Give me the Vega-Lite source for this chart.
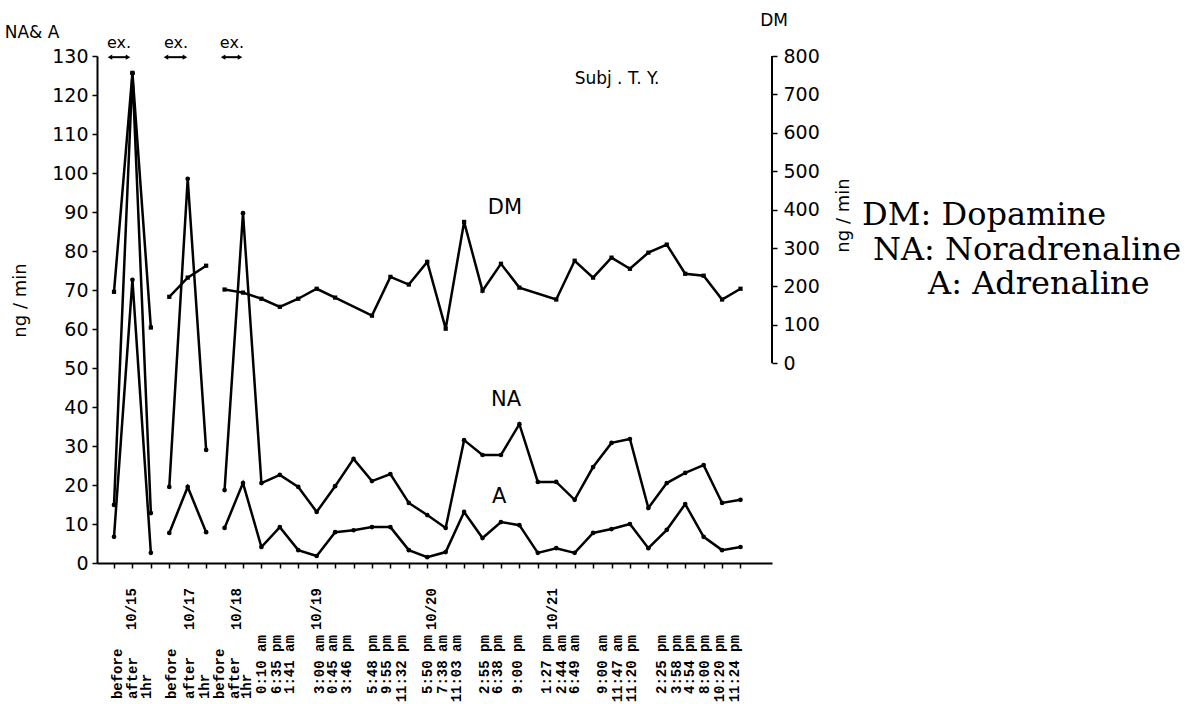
{
  "$schema": "https://vega.github.io/schema/vega-lite/v6.json",
  "width": 675,
  "height": 507,
  "autosize": {"type": "none"},
  "padding": {"left": 97, "top": 56, "right": 432, "bottom": 141},
  "background": "white",
  "config": {
    "view": {"stroke": null},
    "axis": {"domainColor": "black", "tickColor": "black", "labelColor": "black", "titleColor": "black", "grid": false, "labelFont": "DejaVu Sans", "titleFont": "DejaVu Sans"}
  },
  "datasets": {
    "na_a": [
      {"s": "NA", "g": 1, "i": 0, "v": 14.9}, {"s": "NA", "g": 1, "i": 1, "v": 125.6}, {"s": "NA", "g": 1, "i": 2, "v": 12.8},
      {"s": "NA", "g": 2, "i": 3, "v": 19.5}, {"s": "NA", "g": 2, "i": 4, "v": 98.5}, {"s": "NA", "g": 2, "i": 5, "v": 29.0},
      {"s": "NA", "g": 3, "i": 6, "v": 18.7}, {"s": "NA", "g": 3, "i": 7, "v": 89.7}, {"s": "NA", "g": 3, "i": 8, "v": 20.5},
      {"s": "NA", "g": 3, "i": 9, "v": 22.6}, {"s": "NA", "g": 3, "i": 10, "v": 19.5}, {"s": "NA", "g": 3, "i": 11, "v": 13.1},
      {"s": "NA", "g": 3, "i": 12, "v": 19.7}, {"s": "NA", "g": 3, "i": 13, "v": 26.7}, {"s": "NA", "g": 3, "i": 14, "v": 21.0},
      {"s": "NA", "g": 3, "i": 15, "v": 22.8}, {"s": "NA", "g": 3, "i": 16, "v": 15.4}, {"s": "NA", "g": 3, "i": 17, "v": 12.3},
      {"s": "NA", "g": 3, "i": 18, "v": 9.0}, {"s": "NA", "g": 3, "i": 19, "v": 31.5}, {"s": "NA", "g": 3, "i": 20, "v": 27.7},
      {"s": "NA", "g": 3, "i": 21, "v": 27.7}, {"s": "NA", "g": 3, "i": 22, "v": 35.6}, {"s": "NA", "g": 3, "i": 23, "v": 20.8},
      {"s": "NA", "g": 3, "i": 24, "v": 20.8}, {"s": "NA", "g": 3, "i": 25, "v": 16.2}, {"s": "NA", "g": 3, "i": 26, "v": 24.6},
      {"s": "NA", "g": 3, "i": 27, "v": 30.8}, {"s": "NA", "g": 3, "i": 28, "v": 31.8}, {"s": "NA", "g": 3, "i": 29, "v": 14.1},
      {"s": "NA", "g": 3, "i": 30, "v": 20.5}, {"s": "NA", "g": 3, "i": 31, "v": 23.1}, {"s": "NA", "g": 3, "i": 32, "v": 25.1},
      {"s": "NA", "g": 3, "i": 33, "v": 15.4}, {"s": "NA", "g": 3, "i": 34, "v": 16.2},
      {"s": "A", "g": 1, "i": 0, "v": 6.7}, {"s": "A", "g": 1, "i": 1, "v": 72.6}, {"s": "A", "g": 1, "i": 2, "v": 2.6},
      {"s": "A", "g": 2, "i": 3, "v": 7.7}, {"s": "A", "g": 2, "i": 4, "v": 19.5}, {"s": "A", "g": 2, "i": 5, "v": 7.9},
      {"s": "A", "g": 3, "i": 6, "v": 9.0}, {"s": "A", "g": 3, "i": 7, "v": 20.5}, {"s": "A", "g": 3, "i": 8, "v": 4.1},
      {"s": "A", "g": 3, "i": 9, "v": 9.2}, {"s": "A", "g": 3, "i": 10, "v": 3.3}, {"s": "A", "g": 3, "i": 11, "v": 1.8},
      {"s": "A", "g": 3, "i": 12, "v": 7.9}, {"s": "A", "g": 3, "i": 13, "v": 8.4}, {"s": "A", "g": 3, "i": 14, "v": 9.2},
      {"s": "A", "g": 3, "i": 15, "v": 9.2}, {"s": "A", "g": 3, "i": 16, "v": 3.3}, {"s": "A", "g": 3, "i": 17, "v": 1.5},
      {"s": "A", "g": 3, "i": 18, "v": 2.8}, {"s": "A", "g": 3, "i": 19, "v": 13.1}, {"s": "A", "g": 3, "i": 20, "v": 6.4},
      {"s": "A", "g": 3, "i": 21, "v": 10.5}, {"s": "A", "g": 3, "i": 22, "v": 9.7}, {"s": "A", "g": 3, "i": 23, "v": 2.6},
      {"s": "A", "g": 3, "i": 24, "v": 3.8}, {"s": "A", "g": 3, "i": 25, "v": 2.6}, {"s": "A", "g": 3, "i": 26, "v": 7.7},
      {"s": "A", "g": 3, "i": 27, "v": 8.7}, {"s": "A", "g": 3, "i": 28, "v": 10.0}, {"s": "A", "g": 3, "i": 29, "v": 3.8},
      {"s": "A", "g": 3, "i": 30, "v": 8.5}, {"s": "A", "g": 3, "i": 31, "v": 15.1}, {"s": "A", "g": 3, "i": 32, "v": 6.7},
      {"s": "A", "g": 3, "i": 33, "v": 3.3}, {"s": "A", "g": 3, "i": 34, "v": 4.1}
    ],
    "dm": [
      {"g": 1, "i": 0, "v": 186}, {"g": 1, "i": 1, "v": 756}, {"g": 1, "i": 2, "v": 93},
      {"g": 2, "i": 3, "v": 173}, {"g": 2, "i": 4, "v": 223}, {"g": 2, "i": 5, "v": 254},
      {"g": 3, "i": 6, "v": 192}, {"g": 3, "i": 7, "v": 184}, {"g": 3, "i": 8, "v": 168},
      {"g": 3, "i": 9, "v": 147}, {"g": 3, "i": 10, "v": 168}, {"g": 3, "i": 11, "v": 194},
      {"g": 3, "i": 12, "v": 171}, {"g": 3, "i": 14, "v": 124}, {"g": 3, "i": 15, "v": 225},
      {"g": 3, "i": 16, "v": 205}, {"g": 3, "i": 17, "v": 264}, {"g": 3, "i": 18, "v": 90},
      {"g": 3, "i": 19, "v": 368}, {"g": 3, "i": 20, "v": 189}, {"g": 3, "i": 21, "v": 259},
      {"g": 3, "i": 22, "v": 197}, {"g": 3, "i": 24, "v": 166}, {"g": 3, "i": 25, "v": 267},
      {"g": 3, "i": 26, "v": 223}, {"g": 3, "i": 27, "v": 275}, {"g": 3, "i": 28, "v": 246},
      {"g": 3, "i": 29, "v": 288}, {"g": 3, "i": 30, "v": 309}, {"g": 3, "i": 31, "v": 233},
      {"g": 3, "i": 32, "v": 228}, {"g": 3, "i": 33, "v": 166}, {"g": 3, "i": 34, "v": 194}
    ]
  },
  "layer": [
    {
      "layer": [
        {
          "data": {"name": "na_a"},
          "mark": {"type": "line", "color": "black", "strokeWidth": 2.5},
          "encoding": {
            "x": {"field": "i", "type": "quantitative", "scale": {"domain": [-0.923, 35.71], "nice": false, "zero": false},
                  "axis": {"values": [0,1,2,3,4,5,6,7,8,9,10,11,12,13,14,15,16,17,18,19,20,21,22,23,24,25,26,27,28,29,30,31,32,33,34], "labels": false, "title": "", "tickSize": 5, "tickWidth": 1.5, "domainWidth": 2}},
            "y": {"field": "v", "type": "quantitative", "scale": {"domain": [0, 130], "nice": false, "zero": false},
                  "axis": {"orient": "left", "values": [0,10,20,30,40,50,60,70,80,90,100,110,120,130], "tickSize": 5, "tickWidth": 1.5, "domainWidth": 2, "labelPadding": 4, "labelFontSize": 19, "labelFlush": false, "labelOverlap": false, "title": "ng / min", "titleAngle": 270, "titleX": -77, "titleY": 244, "titleFontSize": 18, "titleFontWeight": "normal", "titleAlign": "center", "titleBaseline": "middle"}},
            "detail": [{"field": "s"}, {"field": "g"}]
          }
        },
        {
          "data": {"name": "na_a"},
          "mark": {"type": "point", "filled": true, "color": "black", "size": 22, "opacity": 1},
          "encoding": {
            "x": {"field": "i", "type": "quantitative", "scale": {"domain": [-0.923, 35.71], "nice": false, "zero": false},
                  "axis": {"values": [0,1,2,3,4,5,6,7,8,9,10,11,12,13,14,15,16,17,18,19,20,21,22,23,24,25,26,27,28,29,30,31,32,33,34], "labels": false, "title": "", "tickSize": 5, "tickWidth": 1.5, "domainWidth": 2}},
            "y": {"field": "v", "type": "quantitative", "scale": {"domain": [0, 130], "nice": false, "zero": false},
                  "axis": {"orient": "left", "values": [0,10,20,30,40,50,60,70,80,90,100,110,120,130], "tickSize": 5, "tickWidth": 1.5, "domainWidth": 2, "labelPadding": 4, "labelFontSize": 19, "labelFlush": false, "labelOverlap": false, "title": "ng / min", "titleAngle": 270, "titleX": -77, "titleY": 244, "titleFontSize": 18, "titleFontWeight": "normal", "titleAlign": "center", "titleBaseline": "middle"}}
          }
        },
        {
          "data": {"values": [{"a": -0.22, "b": 0.76, "c": 0.27}, {"a": 2.82, "b": 3.85, "c": 3.37}, {"a": 5.92, "b": 6.84, "c": 6.4}]},
          "layer": [
            {
              "mark": {"type": "rule", "color": "black", "strokeWidth": 2},
              "encoding": {
                "x": {"field": "a", "type": "quantitative", "scale": {"domain": [-0.923, 35.71], "nice": false, "zero": false},
                      "axis": {"values": [0,1,2,3,4,5,6,7,8,9,10,11,12,13,14,15,16,17,18,19,20,21,22,23,24,25,26,27,28,29,30,31,32,33,34], "labels": false, "title": "", "tickSize": 5, "tickWidth": 1.5, "domainWidth": 2}},
                "x2": {"field": "b"},
                "y": {"datum": 129.7, "scale": {"domain": [0, 130], "nice": false, "zero": false},
                      "axis": {"orient": "left", "values": [0,10,20,30,40,50,60,70,80,90,100,110,120,130], "tickSize": 5, "tickWidth": 1.5, "domainWidth": 2, "labelPadding": 4, "labelFontSize": 19, "labelFlush": false, "labelOverlap": false, "title": "ng / min", "titleAngle": 270, "titleX": -77, "titleY": 244, "titleFontSize": 18, "titleFontWeight": "normal", "titleAlign": "center", "titleBaseline": "middle"}}
              }
            },
            {
              "mark": {"type": "point", "shape": "triangle-left", "filled": true, "color": "black", "size": 28, "opacity": 1},
              "encoding": {
                "x": {"field": "a", "type": "quantitative", "scale": {"domain": [-0.923, 35.71], "nice": false, "zero": false},
                      "axis": {"values": [0,1,2,3,4,5,6,7,8,9,10,11,12,13,14,15,16,17,18,19,20,21,22,23,24,25,26,27,28,29,30,31,32,33,34], "labels": false, "title": "", "tickSize": 5, "tickWidth": 1.5, "domainWidth": 2}},
                "y": {"datum": 129.7, "scale": {"domain": [0, 130], "nice": false, "zero": false},
                      "axis": {"orient": "left", "values": [0,10,20,30,40,50,60,70,80,90,100,110,120,130], "tickSize": 5, "tickWidth": 1.5, "domainWidth": 2, "labelPadding": 4, "labelFontSize": 19, "labelFlush": false, "labelOverlap": false, "title": "ng / min", "titleAngle": 270, "titleX": -77, "titleY": 244, "titleFontSize": 18, "titleFontWeight": "normal", "titleAlign": "center", "titleBaseline": "middle"}}
              }
            },
            {
              "mark": {"type": "point", "shape": "triangle-right", "filled": true, "color": "black", "size": 28, "opacity": 1},
              "encoding": {
                "x": {"field": "b", "type": "quantitative", "scale": {"domain": [-0.923, 35.71], "nice": false, "zero": false},
                      "axis": {"values": [0,1,2,3,4,5,6,7,8,9,10,11,12,13,14,15,16,17,18,19,20,21,22,23,24,25,26,27,28,29,30,31,32,33,34], "labels": false, "title": "", "tickSize": 5, "tickWidth": 1.5, "domainWidth": 2}},
                "y": {"datum": 129.7, "scale": {"domain": [0, 130], "nice": false, "zero": false},
                      "axis": {"orient": "left", "values": [0,10,20,30,40,50,60,70,80,90,100,110,120,130], "tickSize": 5, "tickWidth": 1.5, "domainWidth": 2, "labelPadding": 4, "labelFontSize": 19, "labelFlush": false, "labelOverlap": false, "title": "ng / min", "titleAngle": 270, "titleX": -77, "titleY": 244, "titleFontSize": 18, "titleFontWeight": "normal", "titleAlign": "center", "titleBaseline": "middle"}}
              }
            },
            {
              "mark": {"type": "text", "text": "ex.", "font": "DejaVu Sans", "fontSize": 16, "color": "black", "baseline": "middle"},
              "encoding": {
                "x": {"field": "c", "type": "quantitative", "scale": {"domain": [-0.923, 35.71], "nice": false, "zero": false},
                      "axis": {"values": [0,1,2,3,4,5,6,7,8,9,10,11,12,13,14,15,16,17,18,19,20,21,22,23,24,25,26,27,28,29,30,31,32,33,34], "labels": false, "title": "", "tickSize": 5, "tickWidth": 1.5, "domainWidth": 2}},
                "y": {"datum": 133.3, "scale": {"domain": [0, 130], "nice": false, "zero": false},
                      "axis": {"orient": "left", "values": [0,10,20,30,40,50,60,70,80,90,100,110,120,130], "tickSize": 5, "tickWidth": 1.5, "domainWidth": 2, "labelPadding": 4, "labelFontSize": 19, "labelFlush": false, "labelOverlap": false, "title": "ng / min", "titleAngle": 270, "titleX": -77, "titleY": 244, "titleFontSize": 18, "titleFontWeight": "normal", "titleAlign": "center", "titleBaseline": "middle"}}
              }
            }
          ]
        },
        {
          "data": {"values": [
            {"p": 0.22, "t": "before"}, {"p": 1.03, "t": "after"}, {"p": 1.79, "t": "1hr"},
            {"p": 3.15, "t": "before"}, {"p": 4.12, "t": "after"}, {"p": 4.94, "t": "1hr"},
            {"p": 5.75, "t": "before"}, {"p": 6.57, "t": "after"}, {"p": 7.22, "t": "1hr"}
          ]},
          "mark": {"type": "text", "angle": 270, "align": "left", "baseline": "middle", "font": "Liberation Mono", "fontWeight": "bold", "fontSize": 14, "color": "black"},
          "encoding": {
            "x": {"field": "p", "type": "quantitative", "scale": {"domain": [-0.923, 35.71], "nice": false, "zero": false},
                  "axis": {"values": [0,1,2,3,4,5,6,7,8,9,10,11,12,13,14,15,16,17,18,19,20,21,22,23,24,25,26,27,28,29,30,31,32,33,34], "labels": false, "title": "", "tickSize": 5, "tickWidth": 1.5, "domainWidth": 2}},
            "y": {"datum": -34.9, "scale": {"domain": [0, 130], "nice": false, "zero": false},
                  "axis": {"orient": "left", "values": [0,10,20,30,40,50,60,70,80,90,100,110,120,130], "tickSize": 5, "tickWidth": 1.5, "domainWidth": 2, "labelPadding": 4, "labelFontSize": 19, "labelFlush": false, "labelOverlap": false, "title": "ng / min", "titleAngle": 270, "titleX": -77, "titleY": 244, "titleFontSize": 18, "titleFontWeight": "normal", "titleAlign": "center", "titleBaseline": "middle"}},
            "text": {"field": "t"}
          }
        },
        {
          "data": {"values": [
            {"p": 8.03, "t": "0:10 am"}, {"p": 8.84, "t": "6:35 pm"}, {"p": 9.55, "t": "1:41 am"},
            {"p": 11.18, "t": "3:00 am"}, {"p": 11.88, "t": "0:45 am"}, {"p": 12.64, "t": "3:46 pm"},
            {"p": 14.05, "t": "5:48 pm"}, {"p": 14.81, "t": "9:55 pm"}, {"p": 15.63, "t": "11:32 pm"},
            {"p": 17.04, "t": "5:50 pm"}, {"p": 17.85, "t": "7:38 am"}, {"p": 18.61, "t": "11:03 am"},
            {"p": 20.13, "t": "2:55 pm"}, {"p": 20.84, "t": "6:38 pm"}, {"p": 21.92, "t": "9:00 pm"},
            {"p": 23.49, "t": "1:27 pm"}, {"p": 24.31, "t": "2:44 am"}, {"p": 25.01, "t": "6:49 am"},
            {"p": 26.53, "t": "9:00 am"}, {"p": 27.35, "t": "11:47 am"}, {"p": 28.11, "t": "11:20 pm"},
            {"p": 29.73, "t": "2:25 pm"}, {"p": 30.55, "t": "3:58 pm"}, {"p": 31.25, "t": "4:54 pm"},
            {"p": 32.07, "t": "8:00 pm"}, {"p": 32.88, "t": "10:20 pm"}, {"p": 33.7, "t": "11:24 pm"}
          ]},
          "mark": {"type": "text", "angle": 270, "align": "right", "baseline": "middle", "font": "Liberation Mono", "fontWeight": "bold", "fontSize": 14, "color": "black"},
          "encoding": {
            "x": {"field": "p", "type": "quantitative", "scale": {"domain": [-0.923, 35.71], "nice": false, "zero": false},
                  "axis": {"values": [0,1,2,3,4,5,6,7,8,9,10,11,12,13,14,15,16,17,18,19,20,21,22,23,24,25,26,27,28,29,30,31,32,33,34], "labels": false, "title": "", "tickSize": 5, "tickWidth": 1.5, "domainWidth": 2}},
            "y": {"datum": -18.5, "scale": {"domain": [0, 130], "nice": false, "zero": false},
                  "axis": {"orient": "left", "values": [0,10,20,30,40,50,60,70,80,90,100,110,120,130], "tickSize": 5, "tickWidth": 1.5, "domainWidth": 2, "labelPadding": 4, "labelFontSize": 19, "labelFlush": false, "labelOverlap": false, "title": "ng / min", "titleAngle": 270, "titleX": -77, "titleY": 244, "titleFontSize": 18, "titleFontWeight": "normal", "titleAlign": "center", "titleBaseline": "middle"}},
            "text": {"field": "t"}
          }
        },
        {
          "data": {"values": [
            {"p": 0.98, "t": "10/15"}, {"p": 4.12, "t": "10/17"}, {"p": 6.67, "t": "10/18"},
            {"p": 11.0, "t": "10/19"}, {"p": 17.25, "t": "10/20"}, {"p": 23.82, "t": "10/21"}
          ]},
          "mark": {"type": "text", "angle": 270, "align": "left", "baseline": "middle", "font": "Liberation Mono", "fontWeight": "bold", "fontSize": 14, "color": "black"},
          "encoding": {
            "x": {"field": "p", "type": "quantitative", "scale": {"domain": [-0.923, 35.71], "nice": false, "zero": false},
                  "axis": {"values": [0,1,2,3,4,5,6,7,8,9,10,11,12,13,14,15,16,17,18,19,20,21,22,23,24,25,26,27,28,29,30,31,32,33,34], "labels": false, "title": "", "tickSize": 5, "tickWidth": 1.5, "domainWidth": 2}},
            "y": {"datum": -17.2, "scale": {"domain": [0, 130], "nice": false, "zero": false},
                  "axis": {"orient": "left", "values": [0,10,20,30,40,50,60,70,80,90,100,110,120,130], "tickSize": 5, "tickWidth": 1.5, "domainWidth": 2, "labelPadding": 4, "labelFontSize": 19, "labelFlush": false, "labelOverlap": false, "title": "ng / min", "titleAngle": 270, "titleX": -77, "titleY": 244, "titleFontSize": 18, "titleFontWeight": "normal", "titleAlign": "center", "titleBaseline": "middle"}},
            "text": {"field": "t"}
          }
        },
        {
          "data": {"values": [
            {"p": 21.22, "q": 91.0, "t": "DM"},
            {"p": 21.28, "q": 41.8, "t": "NA"},
            {"p": 20.9, "q": 16.9, "t": "A"}
          ]},
          "mark": {"type": "text", "font": "DejaVu Sans", "fontSize": 21, "color": "black", "baseline": "middle"},
          "encoding": {
            "x": {"field": "p", "type": "quantitative", "scale": {"domain": [-0.923, 35.71], "nice": false, "zero": false},
                  "axis": {"values": [0,1,2,3,4,5,6,7,8,9,10,11,12,13,14,15,16,17,18,19,20,21,22,23,24,25,26,27,28,29,30,31,32,33,34], "labels": false, "title": "", "tickSize": 5, "tickWidth": 1.5, "domainWidth": 2}},
            "y": {"field": "q", "type": "quantitative", "scale": {"domain": [0, 130], "nice": false, "zero": false},
                  "axis": {"orient": "left", "values": [0,10,20,30,40,50,60,70,80,90,100,110,120,130], "tickSize": 5, "tickWidth": 1.5, "domainWidth": 2, "labelPadding": 4, "labelFontSize": 19, "labelFlush": false, "labelOverlap": false, "title": "ng / min", "titleAngle": 270, "titleX": -77, "titleY": 244, "titleFontSize": 18, "titleFontWeight": "normal", "titleAlign": "center", "titleBaseline": "middle"}},
            "text": {"field": "t"}
          }
        },
        {
          "data": {"values": [
            {"p": 27.3, "q": 124.1, "t": "Subj . T. Y."},
            {"p": -4.45, "q": 135.9, "t": "NA& A"},
            {"p": 35.82, "q": 139.0, "t": "DM"}
          ]},
          "mark": {"type": "text", "font": "DejaVu Sans", "fontSize": 17, "color": "black", "baseline": "middle"},
          "encoding": {
            "x": {"field": "p", "type": "quantitative", "scale": {"domain": [-0.923, 35.71], "nice": false, "zero": false},
                  "axis": {"values": [0,1,2,3,4,5,6,7,8,9,10,11,12,13,14,15,16,17,18,19,20,21,22,23,24,25,26,27,28,29,30,31,32,33,34], "labels": false, "title": "", "tickSize": 5, "tickWidth": 1.5, "domainWidth": 2}},
            "y": {"field": "q", "type": "quantitative", "scale": {"domain": [0, 130], "nice": false, "zero": false},
                  "axis": {"orient": "left", "values": [0,10,20,30,40,50,60,70,80,90,100,110,120,130], "tickSize": 5, "tickWidth": 1.5, "domainWidth": 2, "labelPadding": 4, "labelFontSize": 19, "labelFlush": false, "labelOverlap": false, "title": "ng / min", "titleAngle": 270, "titleX": -77, "titleY": 244, "titleFontSize": 18, "titleFontWeight": "normal", "titleAlign": "center", "titleBaseline": "middle"}},
            "text": {"field": "t"}
          }
        },
        {
          "data": {"values": [
            {"p": 40.6, "q": 89.2, "t": "DM: Dopamine"},
            {"p": 41.19, "q": 80.3, "t": "NA: Noradrenaline"},
            {"p": 44.18, "q": 71.5, "t": "A: Adrenaline"}
          ]},
          "mark": {"type": "text", "font": "DejaVu Serif", "fontSize": 32, "color": "black", "align": "left", "baseline": "middle"},
          "encoding": {
            "x": {"field": "p", "type": "quantitative", "scale": {"domain": [-0.923, 35.71], "nice": false, "zero": false},
                  "axis": {"values": [0,1,2,3,4,5,6,7,8,9,10,11,12,13,14,15,16,17,18,19,20,21,22,23,24,25,26,27,28,29,30,31,32,33,34], "labels": false, "title": "", "tickSize": 5, "tickWidth": 1.5, "domainWidth": 2}},
            "y": {"field": "q", "type": "quantitative", "scale": {"domain": [0, 130], "nice": false, "zero": false},
                  "axis": {"orient": "left", "values": [0,10,20,30,40,50,60,70,80,90,100,110,120,130], "tickSize": 5, "tickWidth": 1.5, "domainWidth": 2, "labelPadding": 4, "labelFontSize": 19, "labelFlush": false, "labelOverlap": false, "title": "ng / min", "titleAngle": 270, "titleX": -77, "titleY": 244, "titleFontSize": 18, "titleFontWeight": "normal", "titleAlign": "center", "titleBaseline": "middle"}},
            "text": {"field": "t"}
          }
        }
      ]
    },
    {
      "layer": [
        {
          "data": {"name": "dm"},
          "mark": {"type": "line", "color": "black", "strokeWidth": 2.5},
          "encoding": {
            "x": {"field": "i", "type": "quantitative", "scale": {"domain": [-0.923, 35.71], "nice": false, "zero": false},
                  "axis": {"values": [0,1,2,3,4,5,6,7,8,9,10,11,12,13,14,15,16,17,18,19,20,21,22,23,24,25,26,27,28,29,30,31,32,33,34], "labels": false, "title": "", "tickSize": 5, "tickWidth": 1.5, "domainWidth": 2}},
            "y": {"field": "v", "type": "quantitative", "scale": {"domain": [-520, 800], "nice": false, "zero": false},
                  "axis": {"orient": "right", "values": [0,100,200,300,400,500,600,700,800], "domain": false, "tickSize": 5, "tickWidth": 1.5, "labelPadding": 6, "labelFontSize": 19, "labelFlush": false, "labelOverlap": false, "title": "ng / min", "titleAngle": 270, "titleX": 71, "titleY": 159, "titleFontSize": 18, "titleFontWeight": "normal", "titleAlign": "center", "titleBaseline": "middle"}},
            "detail": {"field": "g"}
          }
        },
        {
          "data": {"name": "dm"},
          "mark": {"type": "point", "shape": "square", "filled": true, "color": "black", "size": 18, "opacity": 1},
          "encoding": {
            "x": {"field": "i", "type": "quantitative", "scale": {"domain": [-0.923, 35.71], "nice": false, "zero": false},
                  "axis": {"values": [0,1,2,3,4,5,6,7,8,9,10,11,12,13,14,15,16,17,18,19,20,21,22,23,24,25,26,27,28,29,30,31,32,33,34], "labels": false, "title": "", "tickSize": 5, "tickWidth": 1.5, "domainWidth": 2}},
            "y": {"field": "v", "type": "quantitative", "scale": {"domain": [-520, 800], "nice": false, "zero": false},
                  "axis": {"orient": "right", "values": [0,100,200,300,400,500,600,700,800], "domain": false, "tickSize": 5, "tickWidth": 1.5, "labelPadding": 6, "labelFontSize": 19, "labelFlush": false, "labelOverlap": false, "title": "ng / min", "titleAngle": 270, "titleX": 71, "titleY": 159, "titleFontSize": 18, "titleFontWeight": "normal", "titleAlign": "center", "titleBaseline": "middle"}}
          }
        },
        {
          "data": {"values": [{}]},
          "mark": {"type": "rule", "color": "black", "strokeWidth": 2},
          "encoding": {
            "x": {"datum": 35.71, "scale": {"domain": [-0.923, 35.71], "nice": false, "zero": false},
                  "axis": {"values": [0,1,2,3,4,5,6,7,8,9,10,11,12,13,14,15,16,17,18,19,20,21,22,23,24,25,26,27,28,29,30,31,32,33,34], "labels": false, "title": "", "tickSize": 5, "tickWidth": 1.5, "domainWidth": 2}},
            "y": {"datum": 0, "scale": {"domain": [-520, 800], "nice": false, "zero": false},
                  "axis": {"orient": "right", "values": [0,100,200,300,400,500,600,700,800], "domain": false, "tickSize": 5, "tickWidth": 1.5, "labelPadding": 6, "labelFontSize": 19, "labelFlush": false, "labelOverlap": false, "title": "ng / min", "titleAngle": 270, "titleX": 71, "titleY": 159, "titleFontSize": 18, "titleFontWeight": "normal", "titleAlign": "center", "titleBaseline": "middle"}},
            "y2": {"datum": 800}
          }
        }
      ]
    }
  ],
  "resolve": {"scale": {"y": "independent"}}
}
